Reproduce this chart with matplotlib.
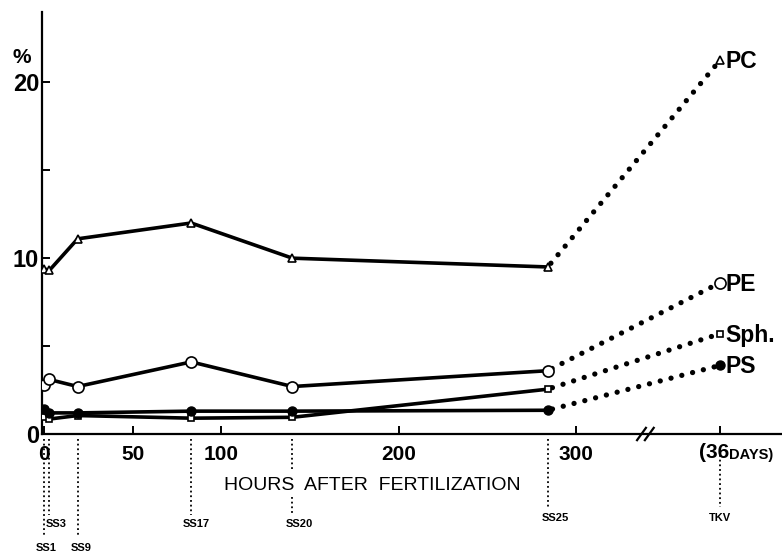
import matplotlib
matplotlib.use("Agg")
import matplotlib.pyplot as plt
import matplotlib.transforms as mtransforms

plt.rcParams['font.family'] = ['Liberation Sans', 'DejaVu Sans']

# ---- data ----
hours = [0, 3, 19, 83, 140, 284]
pc = [9.4, 9.3, 11.1, 12.0, 10.0, 9.5]
pe = [2.8, 3.1, 2.7, 4.1, 2.7, 3.6]
sph = [0.95, 0.85, 1.05, 0.9, 0.95, 2.55]
ps = [1.4, 1.2, 1.2, 1.3, 1.3, 1.35]

tkv_pos = 381          # axis position of the 36-day point (after the break)
pc_tkv, pe_tkv, sph_tkv, ps_tkv = 21.25, 8.6, 5.7, 3.9

series_names = ["PC", "PE", "Sph.", "PS"]
stages = ["SS1", "SS3", "SS9", "SS17", "SS20", "SS25"]
x_ticks = [0, 50, 100, 200, 300]
x_ticklabels = ["0", "50", "100", "200", "300"]

fig = plt.figure(figsize=(7.82, 5.55), dpi=100)
ax = fig.add_axes([42/782, 121/555, 740/782, 422/555])
ax.set_xlim(-1.1, 416)
ax.set_ylim(0, 24)

for s in ["top", "right"]:
    ax.spines[s].set_visible(False)
for s in ["left", "bottom"]:
    ax.spines[s].set_linewidth(1.6)

markers = [
    (pc, pc_tkv, dict(marker='^', ms=6, mfc='white', mec='black', mew=1.2)),
    (pe, pe_tkv, dict(marker='o', ms=8, mfc='white', mec='black', mew=1.2)),
    (sph, sph_tkv, dict(marker='s', ms=5, mfc='white', mec='black', mew=1.2)),
    (ps, ps_tkv, dict(marker='o', ms=6.5, mfc='black', mec='black', mew=1.0)),
]

for (vals, tv, mk), name in zip(markers, series_names):
    ax.plot(hours, vals, color='black', lw=2.6, solid_capstyle='round', zorder=2)
    ax.plot([hours[-1], tkv_pos], [vals[-1], tv], color='black', lw=3.8,
            linestyle=(1.2, (0.01, 2.1)), dash_capstyle='round', zorder=2)
    ax.plot(hours, vals, linestyle='none', zorder=3, **mk)
    ax.plot([tkv_pos], [tv], linestyle='none', zorder=3, **mk)
    ax.annotate(name, xy=(tkv_pos, tv), xytext=(4, -1), textcoords='offset points',
                ha='left', va='center', fontsize=16.5, fontweight='bold',
                annotation_clip=False)

# ticks
ax.set_yticks([0, 10, 20])
ax.set_yticklabels(["0", "10", "20"])
ax.set_yticks([5, 15], minor=True)
ax.tick_params(axis='y', which='both', direction='in', length=6, width=1.4,
               labelsize=17, pad=2)
ax.set_xticks(x_ticks + [tkv_pos])
ax.set_xticklabels(x_ticklabels + [""])
ax.tick_params(axis='x', direction='in', length=6, width=1.4, labelsize=15, pad=8)
for lab in ax.get_xticklabels() + ax.get_yticklabels():
    lab.set_fontweight('bold')

ax.text(-0.027, 0.893, "%", transform=ax.transAxes, fontsize=15, ha='center',
        va='center', fontweight='bold')

# 36 days label
trans = mtransforms.blended_transform_factory(ax.transData, ax.transAxes)
ax.text(tkv_pos + 5, -0.021, "(36", transform=trans, ha='right', va='top',
        fontsize=15, fontweight='bold', clip_on=False)
ax.text(tkv_pos + 5, -0.033, "DAYS)", transform=trans, ha='left', va='top',
        fontsize=10.5, fontweight='bold', clip_on=False)

# axis break
bx = 339
for dx in (-2.2, 2.2):
    ax.plot([bx + dx - 2.5, bx + dx + 2.5], [-0.35, 0.35], color='black',
            lw=1.6, clip_on=False, zorder=5)

ax.text(185, -0.121, "HOURS  AFTER  FERTILIZATION", transform=trans,
        ha='center', va='center', fontsize=14)

# stage reference lines
stage_x = hours + [tkv_pos]
stage_names = stages + ["TKV"]
bottoms = [-0.244, -0.192, -0.244, -0.192, -0.192, -0.173, -0.173]
label_y = [-0.270, -0.213, -0.270, -0.213, -0.213, -0.200, -0.200]
label_dx = [1, 4, 2, 3, 4, 4, 0]
for i, (sx, nm) in enumerate(zip(stage_x, stage_names)):
    top = -0.05 if nm == "TKV" else -0.012
    if nm == "SS20":
        segs = [(top, -0.085), (-0.149, bottoms[i])]
    else:
        segs = [(top, bottoms[i])]
    for a, b in segs:
        ax.plot([sx, sx], [a, b], transform=trans, color='black', lw=1.3,
                linestyle=(0, (1, 1.6)), clip_on=False)
    ax.text(sx + label_dx[i], label_y[i], nm, transform=trans, ha='center',
            va='center', fontsize=8, fontweight='bold', clip_on=False)

fig.savefig("out.png", dpi=100)
